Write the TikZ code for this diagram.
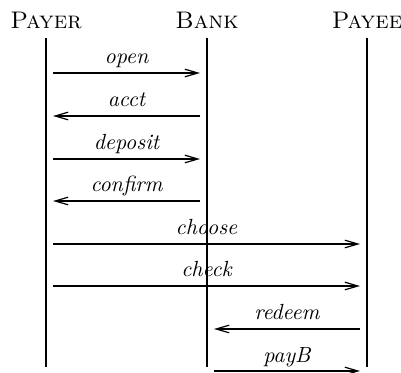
\documentclass[tikz,border=0pt,11pt]{standalone}
\usetikzlibrary{arrows.meta}
\begin{document}
\begin{tikzpicture}[x=0.5pt, y=-0.5pt, line width=0.6pt,
  actor/.style={font=\large\scshape, inner sep=4.6pt},
  msg/.style={-{Straight Barb[length=6.5pt,width=3.8pt]}, shorten >=3.5pt, shorten <=3.5pt},
  lbl/.style={font=\itshape, anchor=base, yshift=4.5pt}]
\useasboundingbox (0,0) rectangle (401,373);
\begin{scope}[every node/.style={actor}]
\node (payer) at (46,20) {Payer};
\node (bank) at (207,20) {Bank};
\node (payee) at (367,20) {Payee};
\end{scope}
% lifelines
\coordinate (payer bot) at (46,367);
\coordinate (bank bot) at (207,367);
\coordinate (payee bot) at (367,367);
\foreach \who in {payer,bank,payee}
  \draw (\who) -- (\who\space bot);
% messages
\foreach \y/\from/\to/\txt in {73/payer/bank/open, 116/bank/payer/acct,
    159/payer/bank/deposit, 201/bank/payer/confirm, 244/payer/payee/choose,
    286/payer/payee/check, 329/payee/bank/redeem, 371/bank/payee/payB}
  \draw[msg] (\from |- 0,\y) -- node[lbl] {\txt} (\to |- 0,\y);
\end{tikzpicture}
\end{document}
